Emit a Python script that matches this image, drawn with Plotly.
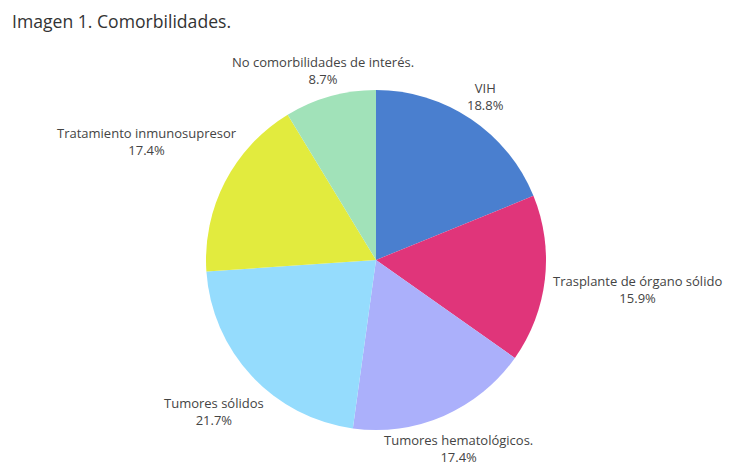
import math
import plotly.graph_objects as go

labels = ["VIH", "Trasplante de órgano sólido", "Tumores hematológicos.", "Tumores sólidos",
          "Tratamiento inmunosupresor", "No comorbilidades de interés."]
values = [13, 11, 12, 15, 12, 6]
colors = ["#4a7fcf", "#e0357a", "#abb0fb", "#95dcfd", "#e2eb3e", "#a1e2b9"]
# distance (px) from pie centre to each label's centre (styling)
label_dist = [197, 263, 206, 222, 258, 197]

W, H = 750, 467
# page body has an 8px margin, so compensate
cx, cy, r = 376 - 8, 260 - 8, 170
fig = go.Figure(go.Pie(
    labels=labels, values=values, sort=False, direction="clockwise", rotation=0,
    marker=dict(colors=colors, line=dict(width=0)),
    textinfo="none",
    domain=dict(x=[(cx-r)/W, (cx+r)/W], y=[(H-(cy+r))/H, (H-(cy-r))/H]),
    showlegend=False, hoverinfo="label+percent",
))

total = sum(values)
cum = 0
for lab, v, d in zip(labels, values, label_dist):
    mid = (cum + v / 2) / total * 2 * math.pi
    cum += v
    px = cx + d * math.sin(mid)
    py = cy - d * math.cos(mid)
    fig.add_annotation(
        x=px / W, y=1 - py / H, xref="paper", yref="paper",
        xanchor="center", yanchor="middle", showarrow=False, align="center",
        text=f"{lab}<br>{v / total * 100:.1f}%",
        font=dict(family="Open Sans", size=13, color="#444"),
    )

fig.update_layout(
    width=W, height=H, margin=dict(l=0, r=0, t=0, b=0),
    paper_bgcolor="white", plot_bgcolor="white",
    title=dict(text="Imagen 1. Comorbilidades.", x=4/W, xanchor="left", y=1-14/H, yanchor="middle",
               font=dict(family="Open Sans", size=17.6, color="#333")),
)
fig.write_html("out.html")
